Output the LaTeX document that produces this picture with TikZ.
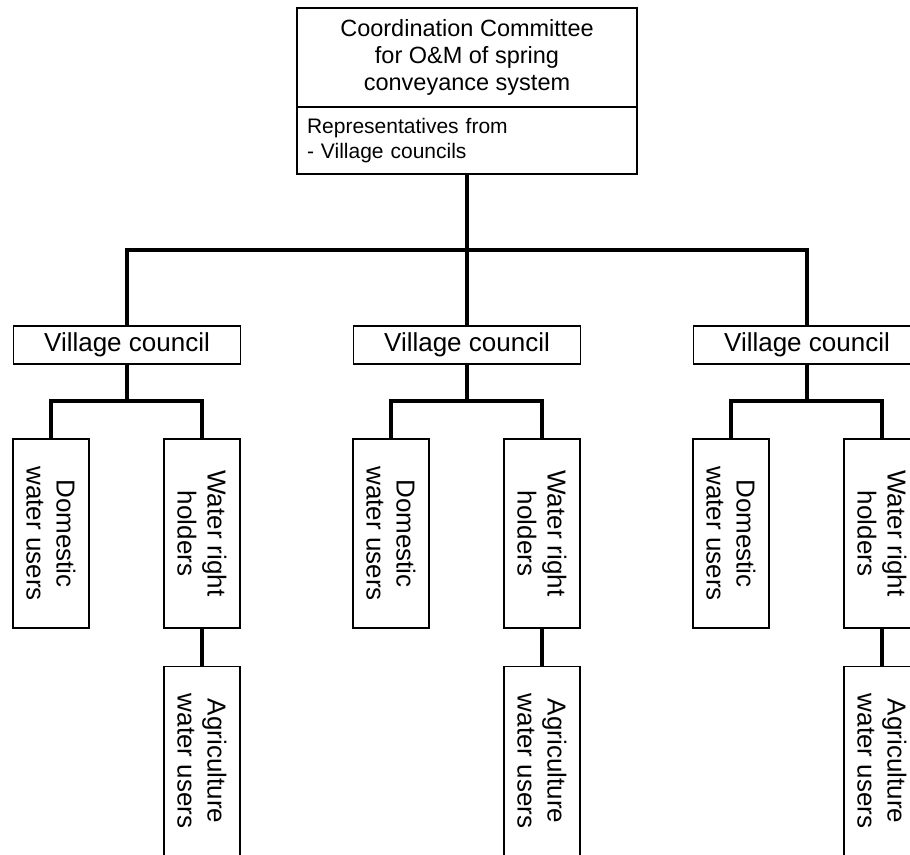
\documentclass[tikz,border=0pt]{standalone}
\usepackage{fontspec}
\setmainfont{Liberation Sans}
\usetikzlibrary{positioning}

\begin{document}
\begin{tikzpicture}[
    x=1pt, y=-1pt,
    box/.style={draw, line width=1.2pt, inner sep=0pt, outer sep=0pt},
    title/.style={box, minimum width=340pt, minimum height=99pt, align=center,
        font=\fontsize{23.5}{27}\selectfont},
    reps/.style={box, minimum width=340pt, minimum height=67pt, text width=320pt,
        align=left, font=\fontsize{21}{25}\selectfont},
    council/.style={box, minimum width=227pt, minimum height=38pt,
        font=\fontsize{26}{30}\selectfont},
    users/.style={box, rotate=-90, minimum width=189pt, minimum height=76pt,
        align=center, font=\fontsize{26}{30}\selectfont},
    conn/.style={line width=3.2pt}
]

\useasboundingbox (0,0) rectangle (910,854);
\clip (0,0) rectangle (910,854);

% ---- Coordination committee (top) ----
\node[title] (cc) at (467, 57.5) {Coordination Committee\\for O\&M of spring\\conveyance system};
\node[reps, below=0pt of cc] (reps) {Representatives from\\- Village councils};

% ---- Village councils and their users ----
\foreach \i/\dx in {1/0, 2/340, 3/680} {
  \node[council] (vc\i) at (127+\dx, 345) {Village council};
  \node[users] (dom\i) at (51+\dx, 533.5) {Domestic\\water users};
  \node[users] (wr\i) at (202+\dx, 533.5) {Water right\\holders};
  \node[users] (ag\i) at (202+\dx, 761) {Agriculture\\water users};
  \coordinate (sub\i) at (127+\dx, 401);
  \draw[conn] (vc\i.south) -- (sub\i);
  \draw[conn] (dom\i.west) |- (sub\i) -| (wr\i.west);
  \draw[conn] (wr\i.east) -- (ag\i.west);
}

% ---- Committee to councils ----
\coordinate (bus) at (467, 250);
\draw[conn] (reps.south) -- (vc2.north);
\draw[conn] (vc1.north) |- (bus) -| (vc3.north);

\end{tikzpicture}
\end{document}
